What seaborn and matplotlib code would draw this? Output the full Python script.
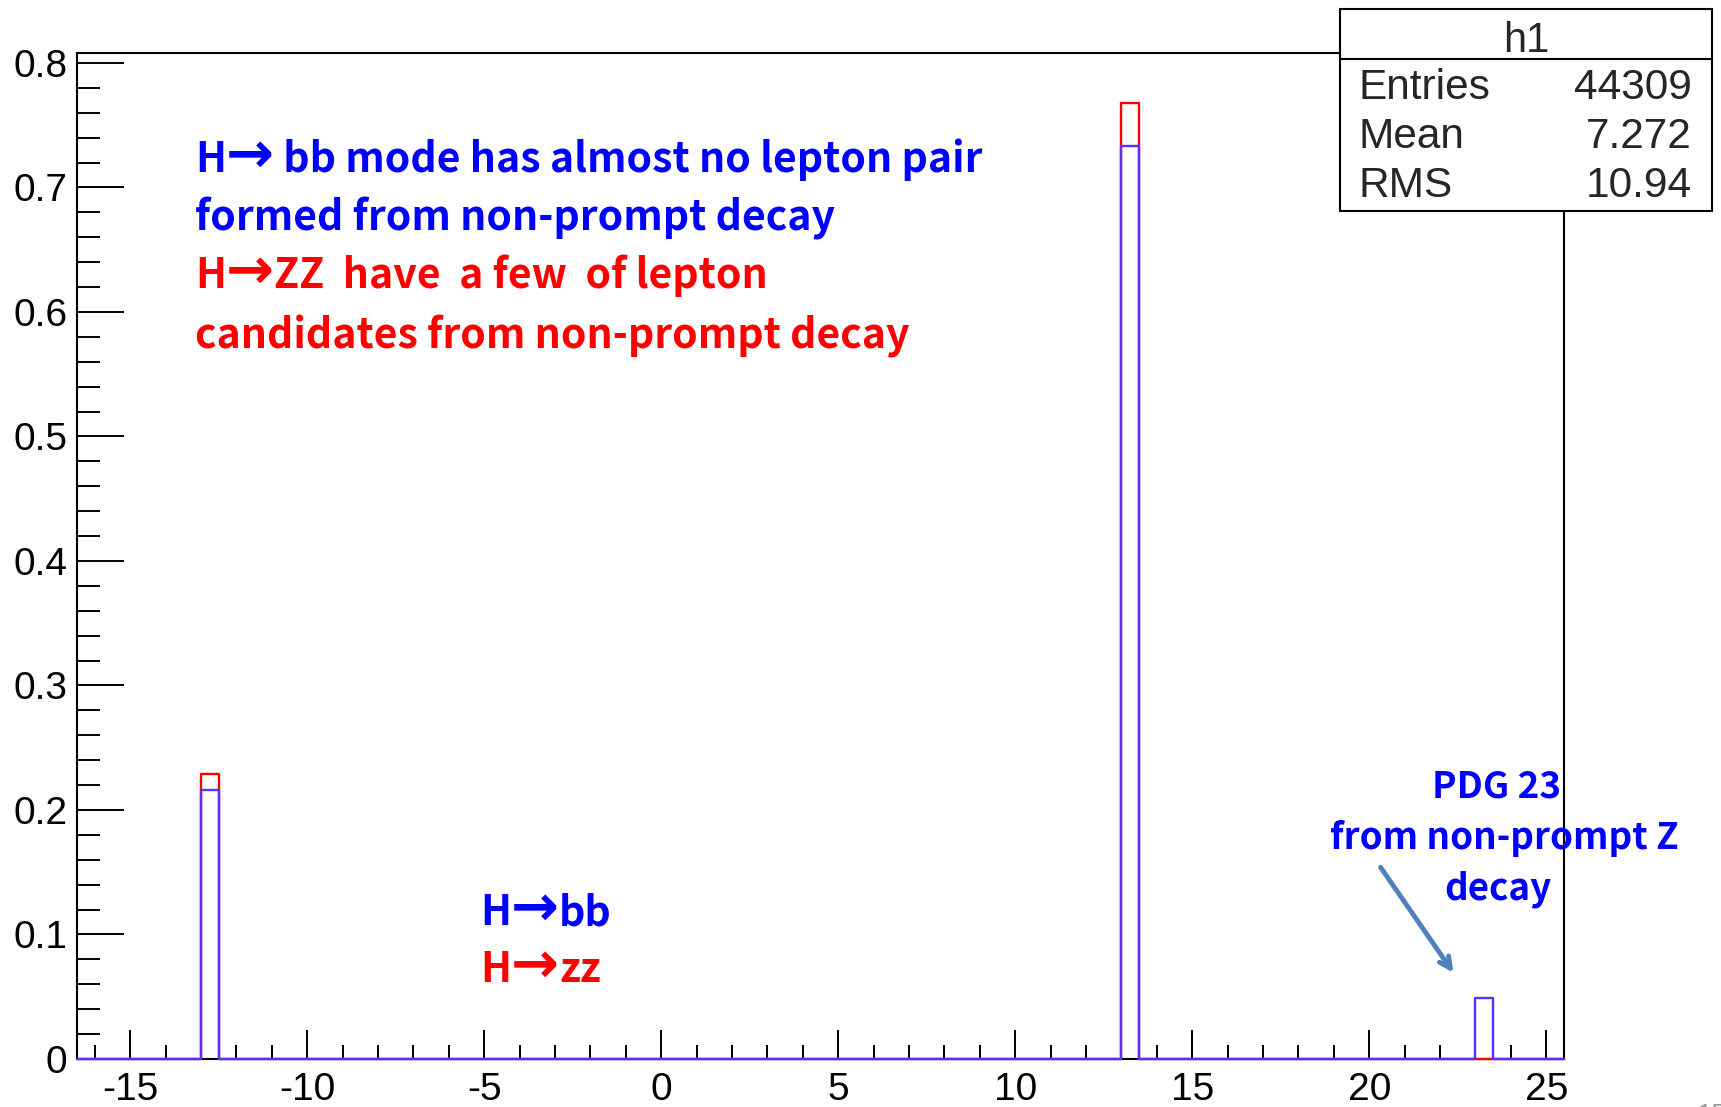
import numpy as np
import pandas as pd
import matplotlib
matplotlib.use("Agg")
import matplotlib.pyplot as plt
from matplotlib.patches import Rectangle, FancyArrowPatch
from matplotlib.lines import Line2D
import seaborn as sns

# PDG code of the parent of the lepton pair, normalised per sample
pdg_codes = [-13, 13, 23]
hbb_frac = [0.216, 0.733, 0.049]
hzz_frac = [0.229, 0.768, 0.0]

x_major = [-15, -10, -5, 0, 5, 10, 15, 20, 25]
y_major = [0, 0.1, 0.2, 0.3, 0.4, 0.5, 0.6, 0.7, 0.8]
y_labels = ["0", "0.1", "0.2", "0.3", "0.4", "0.5", "0.6", "0.7", "0.8"]

stats_names = ["Entries", "Mean", "RMS"]
stats_values = ["44309", "7.272", "10.94"]

BLUE_HIST = "#5a30ff"
RED_HIST = "#ff0000"
BLUE_TXT = "#0000ff"
RED_TXT = "#ff0000"

sns.set_style("white")
plt.rcParams["axes.unicode_minus"] = False
plt.rcParams["font.family"] = ["Liberation Sans", "DejaVu Sans"]
CJK = ["Noto Sans CJK JP", "DejaVu Sans"]

W, H = 1721, 1107
fig = plt.figure(figsize=(W / 100, H / 100), dpi=100)
ax = fig.add_axes([77 / W, 1 - 1059 / H, (1564 - 77) / W, (1059 - 53) / H])


def fx(px):
    return px / W


def fy(py):
    return 1 - py / H


hzz = pd.DataFrame({"pdg": pdg_codes, "frac": hzz_frac})
hbb = pd.DataFrame({"pdg": pdg_codes, "frac": hbb_frac})
common = dict(x="pdg", weights="frac", binwidth=0.5, binrange=(-16.5, 25.5),
              element="step", fill=False, linewidth=1.7, ax=ax)
sns.histplot(data=hzz, color=RED_HIST, **common)
sns.histplot(data=hbb, color=BLUE_HIST, **common)
for ln in ax.lines:
    ln.set_clip_on(False)
    ln.set_zorder(3)

ax.set_xlim(-16.5, 25.5)
ax.set_ylim(0, 0.808)
ax.set_xlabel("")
ax.set_ylabel("")

ax.set_xticks(x_major)
ax.set_xticklabels([str(v) for v in x_major])
ax.set_xticks(np.arange(-16, 26, 1), minor=True)
ax.set_yticks(y_major)
ax.set_yticklabels(y_labels)
ax.set_yticks(np.arange(0, 0.81, 0.02), minor=True)

ax.tick_params(axis="x", which="major", direction="in", length=21, width=1.4,
               labelsize=28, pad=9, colors="black", bottom=True, top=False)
ax.tick_params(axis="x", which="minor", direction="in", length=10, width=1.4,
               bottom=True, top=False, colors="black")
ax.tick_params(axis="y", which="major", direction="in", length=34, width=1.4,
               labelsize=28, pad=7, colors="black", left=True, right=False)
ax.tick_params(axis="y", which="minor", direction="in", length=16.5, width=1.4,
               left=True, right=False, colors="black")
for sp in ax.spines.values():
    sp.set_visible(True)
    sp.set_color("black")
    sp.set_linewidth(1.5)
ax.grid(False)

# statistics box
bx0, bx1, by0, by1, bsep = 1340, 1712, 9, 211, 59
fig.add_artist(Rectangle((fx(bx0), fy(by1)), fx(bx1) - fx(bx0), fy(by0) - fy(by1),
                         transform=fig.transFigure, facecolor="white",
                         edgecolor="black", linewidth=1.5, zorder=10))
fig.add_artist(Line2D([fx(bx0), fx(bx1)], [fy(bsep), fy(bsep)],
                      transform=fig.transFigure, color="black", linewidth=1.5, zorder=11))
fig.text(fx(1526), fy(52), "h1", ha="center", va="baseline", fontsize=30, zorder=12)
for i, (name, val) in enumerate(zip(stats_names, stats_values)):
    base = 99 + i * 49
    fig.text(fx(1358), fy(base), name, ha="left", va="baseline", fontsize=30.5, zorder=12)
    fig.text(fx(1692), fy(base), val, ha="right", va="baseline", fontsize=30.5, zorder=12)

renderer = fig.canvas.get_renderer()


def text_runs(x_px, base_px, parts, color, size):
    """Lay out consecutive text pieces on one baseline; arrows use a heavier face."""
    x = x_px
    for s in parts:
        if s == "→":
            kw = dict(family=["DejaVu Sans"], fontweight="bold", fontsize=size * 1.4)
        else:
            kw = dict(family=CJK, fontweight="bold", fontsize=size)
        t = fig.text(fx(x), fy(base_px), s, color=color, ha="left", va="baseline", **kw)
        x += t.get_window_extent(renderer).width


# annotations
TS = 29.5
text_runs(195, 172, ["H", "→", " bb mode has almost no lepton pair"], BLUE_TXT, TS)
text_runs(195, 230, ["formed from non-prompt decay"], BLUE_TXT, TS)
text_runs(195, 288, ["H", "→", "ZZ  have  a few  of lepton"], RED_TXT, TS)
text_runs(195, 349, ["candidates from non-prompt decay"], RED_TXT, TS)

text_runs(480, 925, ["H", "→", "bb"], BLUE_TXT, TS)
text_runs(480, 982, ["H", "→", "zz"], RED_TXT, TS)

ctr = dict(family=CJK, fontweight="bold", va="baseline", ha="center", color=BLUE_TXT, fontsize=26.5)
fig.text(fx(1497), fy(797), "PDG 23", **ctr)
fig.text(fx(1504), fy(849), "from non-prompt Z", **ctr)
fig.text(fx(1498), fy(900), "decay", **ctr)

fig.add_artist(FancyArrowPatch(
    (fx(1379), fy(865)), (fx(1455), fy(975)), transform=fig.transFigure,
    arrowstyle="->,head_length=8,head_width=4", color="#4f81bd", linewidth=3.5,
    zorder=5))

fig.text(fx(1697), fy(1103), "15", ha="left", va="top", fontsize=20, color="#999999")

fig.savefig("out.png", dpi=100)
